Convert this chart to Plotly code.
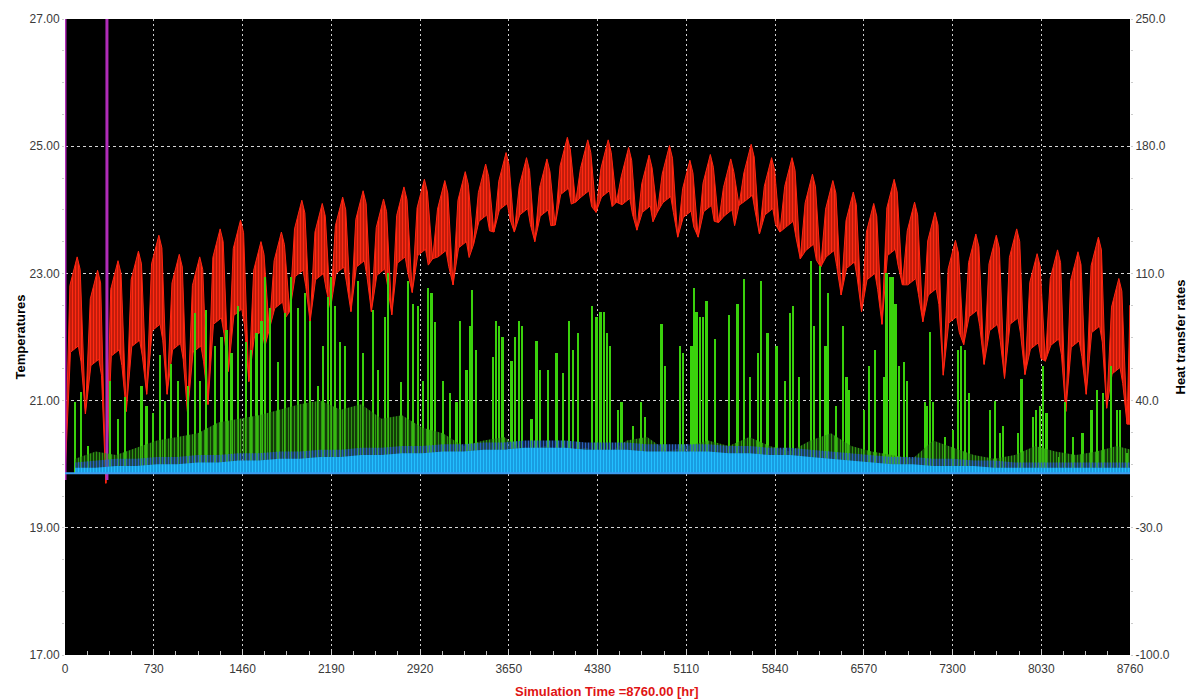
import plotly.graph_objects as go

# ---------------- data ----------------
WEEK_HOURS = 168
X_TICKS = [0, 730, 1460, 2190, 2920, 3650, 4380, 5110, 5840, 6570, 7300, 8030, 8760]
T_TICKS = [17, 19, 21, 23, 25, 27]
Q_TICKS = [-100, -30, 40, 110, 180, 250]

# weekly temperature troughs (start of each week), weekly peak, weekly lower daily level
T_TROUGH = [19.8, 20.79, 19.7, 20.83, 21.1, 21.1, 20.8, 20.94, 21.46, 21.3,
            22.1, 22.4, 22.24, 22.45, 22.4, 22.4, 22.35, 22.7, 23.23, 22.82,
            23.45, 23.65, 23.65, 23.5, 23.76, 24.12, 23.96, 24.12, 23.68, 23.96,
            23.57, 23.57, 23.8, 24.07, 23.62, 23.65, 23.23, 23.1, 22.66, 22.4,
            22.2, 22.82, 22.24, 21.4, 21.88, 21.57, 21.35, 21.41, 21.62, 20.83,
            21.1, 20.88, 20.63]
T_PEAK = [23.26, 23.05, 23.2, 23.35, 23.6, 23.3, 23.26, 23.7, 23.84, 23.5,
          23.65, 24.15, 24.1, 24.2, 24.3, 24.17, 24.36, 24.48, 24.46, 24.6,
          24.72, 24.9, 24.82, 24.8, 25.14, 25.1, 25.1, 24.98, 24.86, 25.01,
          24.78, 24.87, 24.8, 25.03, 24.82, 24.82, 24.56, 24.46, 24.28, 24.1,
          24.48, 24.12, 23.96, 23.52, 23.62, 23.6, 23.7, 23.31, 23.37, 23.34,
          23.57, 22.92]
T_BASE = [21.86, 21.65, 21.8, 21.95, 22.2, 21.9, 21.86, 22.3, 22.44, 22.1,
          22.55, 23.05, 23.0, 23.1, 23.2, 23.07, 23.26, 23.38, 23.36, 23.5,
          23.92, 24.1, 24.02, 24.0, 24.34, 24.3, 24.3, 24.18, 24.06, 24.21,
          23.98, 24.07, 24.0, 24.23, 24.02, 23.82, 23.46, 23.36, 23.18, 23.0,
          23.38, 22.92, 22.76, 22.32, 22.42, 22.2, 22.3, 21.91, 21.97, 21.94,
          22.17, 21.52]
T_END = 22.5

# bright green heat-transfer spikes: hour and height
GREEN_HOURS = [82, 132, 192, 370, 439, 494, 631, 672, 727, 781, 823, 877, 932, 1014, 1069,
               1110, 1165, 1234, 1289, 1330, 1371, 1426, 1494, 1535, 1577, 1618, 1645, 1686,
               1755, 1810, 1864, 1919, 1974, 2015, 2084, 2125, 2166, 2193, 2221, 2262, 2303,
               2413, 2454, 2536, 2577, 2632, 2660, 2769, 2824, 2865, 2906, 2947, 2989, 3016,
               3043, 3112, 3167, 3222, 3249, 3304, 3331, 3353, 3381, 3523, 3545, 3573, 3600,
               3674, 3701, 3737, 3764, 3839, 3880, 3907, 3976, 4044, 4099, 4148, 4181, 4222,
               4340, 4373, 4406, 4433, 4461, 4488, 4551, 4579, 4675, 4743, 4771, 4908, 4935,
               5059, 5086, 5155, 5177, 5196, 5223, 5251, 5278, 5347, 5462, 5533, 5585, 5634,
               5703, 5730, 5780, 5854, 5922, 5963, 5991, 6040, 6136, 6164, 6210, 6257, 6279,
               6347, 6402, 6430, 6449, 6575, 6616, 6663, 6739, 6759, 6786, 6808, 6833, 6863,
               6904, 6931, 7074, 7088, 7115, 7142, 7238, 7307, 7348, 7375, 7403, 7439, 7609,
               7650, 7691, 7718, 7842, 7869, 7965, 7992, 8020, 8047, 8075, 8179, 8225, 8294,
               8371, 8445, 8491, 8541, 8609, 8656, 8678, 8733]
GREEN_VALUES = [39, 45, 15, 51, 30, 42, 48, 37, 33, 65, 40, 60, 51, 48, 88,
                51, 90, 70, 75, 79, 66, 92, 72, 68, 77, 84, 108, 91,
                61, 88, 108, 91, 99, 84, 48, 70, 97, 108, 92, 72, 70,
                106, 66, 90, 57, 86, 110, 50, 106, 93, 92, 51, 102, 99,
                83, 51, 44, 39, 84, 57, 81, 101, 68, 64, 84, 81, 75,
                62, 75, 84, 81, 30, 73, 57, 57, 66, 55, 84, 68, 77,
                92, 86, 89, 89, 77, 70, 35, 39, 26, 39, 31, 82, 59,
                70, 66, 70, 102, 89, 86, 86, 95, 74, 87, 93, 107, 53,
                66, 106, 77, 70, 51, 88, 92, 53, 117, 81, 114, 70, 99,
                37, 81, 53, 46, 35, 59, 68, 53, 110, 108, 108, 93, 59,
                61, 51, 39, 37, 78, 39, 20, 24, 68, 70, 68, 44, 35,
                40, 22, 26, 22, 52, 31, 35, 37, 59, 33, 9, 39, 20,
                22, 35, 46, 44, 59, 35, 35, 11]

# weekly levels of the darker green, dark blue and cyan series
DARK_GREEN = [8, 12, 10, 14, 18, 20, 22, 28, 30, 32, 35, 38, 40, 35, 38, 30, 32,
              25, 22, 15, 18, 20, 12, 15, 12, 14, 10, 18, 20, 12, 15,
              18, 15, 20, 15, 12, 18, 22, 15, 12, 10, 8, 18, 14, 10,
              8, 10, 15, 12, 10, 12, 15, 12]
BLUE = [6, 7, 8, 8, 9, 9, 10, 10, 11, 11, 12, 12, 13, 13, 14, 14, 15, 15, 16, 16,
        17, 17, 18, 18, 18, 17, 17, 17, 16, 16, 16, 16, 15, 15, 14, 14, 13, 12, 11, 10,
        9, 9, 8, 8, 7, 7, 6, 6, 6, 6, 6, 6, 6]
CYAN = [3, 3, 4, 4, 5, 5, 6, 6, 7, 7, 8, 8, 9, 9, 10, 10, 11, 11, 12, 12,
        13, 13, 14, 14, 14, 13, 13, 13, 12, 12, 12, 12, 11, 11, 10, 10, 9, 8, 7, 6,
        5, 5, 4, 4, 4, 3, 3, 3, 3, 3, 3, 3, 3]

MAGENTA_HOURS = [0, 345]
MAGENTA_RANGE = [19.75, 27]

# ---------------- build figure ----------------
FONT = "Liberation Sans, Arial, sans-serif"
fig = go.Figure()

# red temperature band (weekly saw-teeth)
up_x, up_y, lo_x, lo_y = [], [], [], []
for k, (pk, bs) in enumerate(zip(T_PEAK, T_BASE)):
    t = k * WEEK_HOURS
    lw = T_TROUGH[k]
    up_x += [t, t + 40, t + 100, t + 125]
    up_y += [lw, pk - 0.45, pk, pk - 0.2]
    lo_x += [t, t + 45, t + 110, t + 132]
    lo_y += [lw, bs - 0.1, bs, bs - 0.25]
last_t = len(T_PEAK) * WEEK_HOURS
up_x += [last_t, 8760]
up_y += [T_TROUGH[-1], T_END]
lo_x += [last_t, 8760]
lo_y += [T_TROUGH[-1], T_TROUGH[-1]]
band_x = up_x + lo_x[::-1]
band_y = up_y + lo_y[::-1]
fig.add_trace(go.Scatter(x=band_x, y=band_y, mode="lines", fill="toself",
                         fillcolor="#a81408",
                         fillpattern=dict(shape="|", bgcolor="#9c1306", fgcolor="#ff2a12",
                                          size=3, solidity=0.6, fillmode="replace"),
                         line=dict(color="#ff2410", width=1),
                         hoverinfo="skip", showlegend=False, yaxis="y"))

# magenta vertical markers
for h in MAGENTA_HOURS:
    fig.add_trace(go.Scatter(x=[h, h], y=MAGENTA_RANGE, mode="lines",
                             line=dict(color="#b02cb8", width=3),
                             hoverinfo="skip", showlegend=False, yaxis="y"))

# weekly series on right axis
week_x = [k * WEEK_HOURS + 84 for k in range(len(DARK_GREEN))]
fig.add_trace(go.Scatter(x=week_x, y=DARK_GREEN, mode="lines", fill="tozeroy",
                         fillcolor="rgba(45,140,20,0.6)",
                         fillpattern=dict(shape="|", bgcolor="rgba(0,0,0,0)", fgcolor="#2f9414",
                                          size=3, solidity=0.6, fillmode="replace"),
                         line=dict(color="rgba(50,150,20,0.0)", width=0),
                         hoverinfo="skip", showlegend=False, yaxis="y2"))
fig.add_trace(go.Bar(x=GREEN_HOURS, y=GREEN_VALUES, width=14,
                     marker=dict(color="#3ad10c", line=dict(width=0)),
                     hoverinfo="skip", showlegend=False, yaxis="y2"))
fig.add_trace(go.Scatter(x=week_x, y=BLUE, mode="lines", fill="tozeroy",
                         fillcolor="#1f5fb8",
                         fillpattern=dict(shape="|", bgcolor="rgba(0,0,0,0)", fgcolor="#2a62c0",
                                          size=3, solidity=0.6, fillmode="replace"),
                         line=dict(width=0, color="rgba(0,0,0,0)"),
                         hoverinfo="skip", showlegend=False, yaxis="y2"))
fig.add_trace(go.Scatter(x=week_x, y=CYAN, mode="lines", fill="tozeroy",
                         fillcolor="#11a8f0",
                         fillpattern=dict(shape="|", bgcolor="#1690d8", fgcolor="#22c0ff",
                                          size=3, solidity=0.5, fillmode="replace"),
                         line=dict(color="#22b8ff", width=0),
                         hoverinfo="skip", showlegend=False, yaxis="y2"))
fig.add_trace(go.Scatter(x=[0, 8760], y=[0, 0], mode="lines",
                         line=dict(color="#3c9cf0", width=2),
                         hoverinfo="skip", showlegend=False, yaxis="y2"))

tickfont = dict(family=FONT, size=12, color="#3a3a3a")
fig.update_layout(
    width=1195, height=700,
    margin=dict(l=65, r=65, t=16, b=45),
    paper_bgcolor="white", plot_bgcolor="black",
    barmode="overlay", bargap=0,
    xaxis=dict(range=[0, 8760], tickmode="array", tickvals=X_TICKS,
               ticktext=[str(v) for v in X_TICKS], tickfont=tickfont,
               showgrid=True, gridcolor="#cfcfcf", gridwidth=1, griddash="2px,3px",
               ticks="inside", ticklen=5, tickcolor="#cccccc", ticklabelstandoff=5,
               minor=dict(dtick=182.5, tick0=0, ticks="inside", ticklen=4, tickcolor="#bbbbbb", showgrid=False),
               zeroline=False, showline=False, fixedrange=True),
    yaxis=dict(range=[17, 27], tickmode="array", tickvals=T_TICKS,
               ticktext=["%.2f" % v for v in T_TICKS], tickfont=tickfont,
               showgrid=True, gridcolor="#d6d6d6", gridwidth=1, griddash="3px,3px",
               ticks="outside", ticklen=2, tickcolor="#cccccc",
               minor=dict(dtick=0.5, tick0=17, ticks="outside", ticklen=2, tickcolor="#cccccc", showgrid=False),
               zeroline=False, showline=False),
    yaxis2=dict(range=[-100, 250], overlaying="y", side="right", tickmode="array",
                tickvals=Q_TICKS, ticktext=["%.1f" % v for v in Q_TICKS], tickfont=tickfont,
                showgrid=False, zeroline=False, showline=False,
                ticks="outside", ticklen=2, tickcolor="#cccccc",
                minor=dict(dtick=17.5, tick0=-100, ticks="outside", ticklen=2, tickcolor="#cccccc")),
    annotations=[
        dict(text="<b>Temperatures</b>", xref="paper", yref="paper", x=0, y=0.5,
             xshift=-55, textangle=-90, showarrow=False,
             font=dict(family=FONT, size=13, color="black")),
        dict(text="<b>Heat transfer rates</b>", xref="paper", yref="paper", x=1, y=0.5,
             xshift=59, textangle=-90, showarrow=False,
             font=dict(family=FONT, size=13, color="black")),
        dict(text="<b>Simulation Time =8760.00 [hr]</b>", xref="paper", yref="paper",
             x=0.509, y=0, yanchor="middle", yshift=-36, showarrow=False,
             font=dict(family=FONT, size=13, color="#e01414")),
    ],
)

fig.write_html("out.html")
